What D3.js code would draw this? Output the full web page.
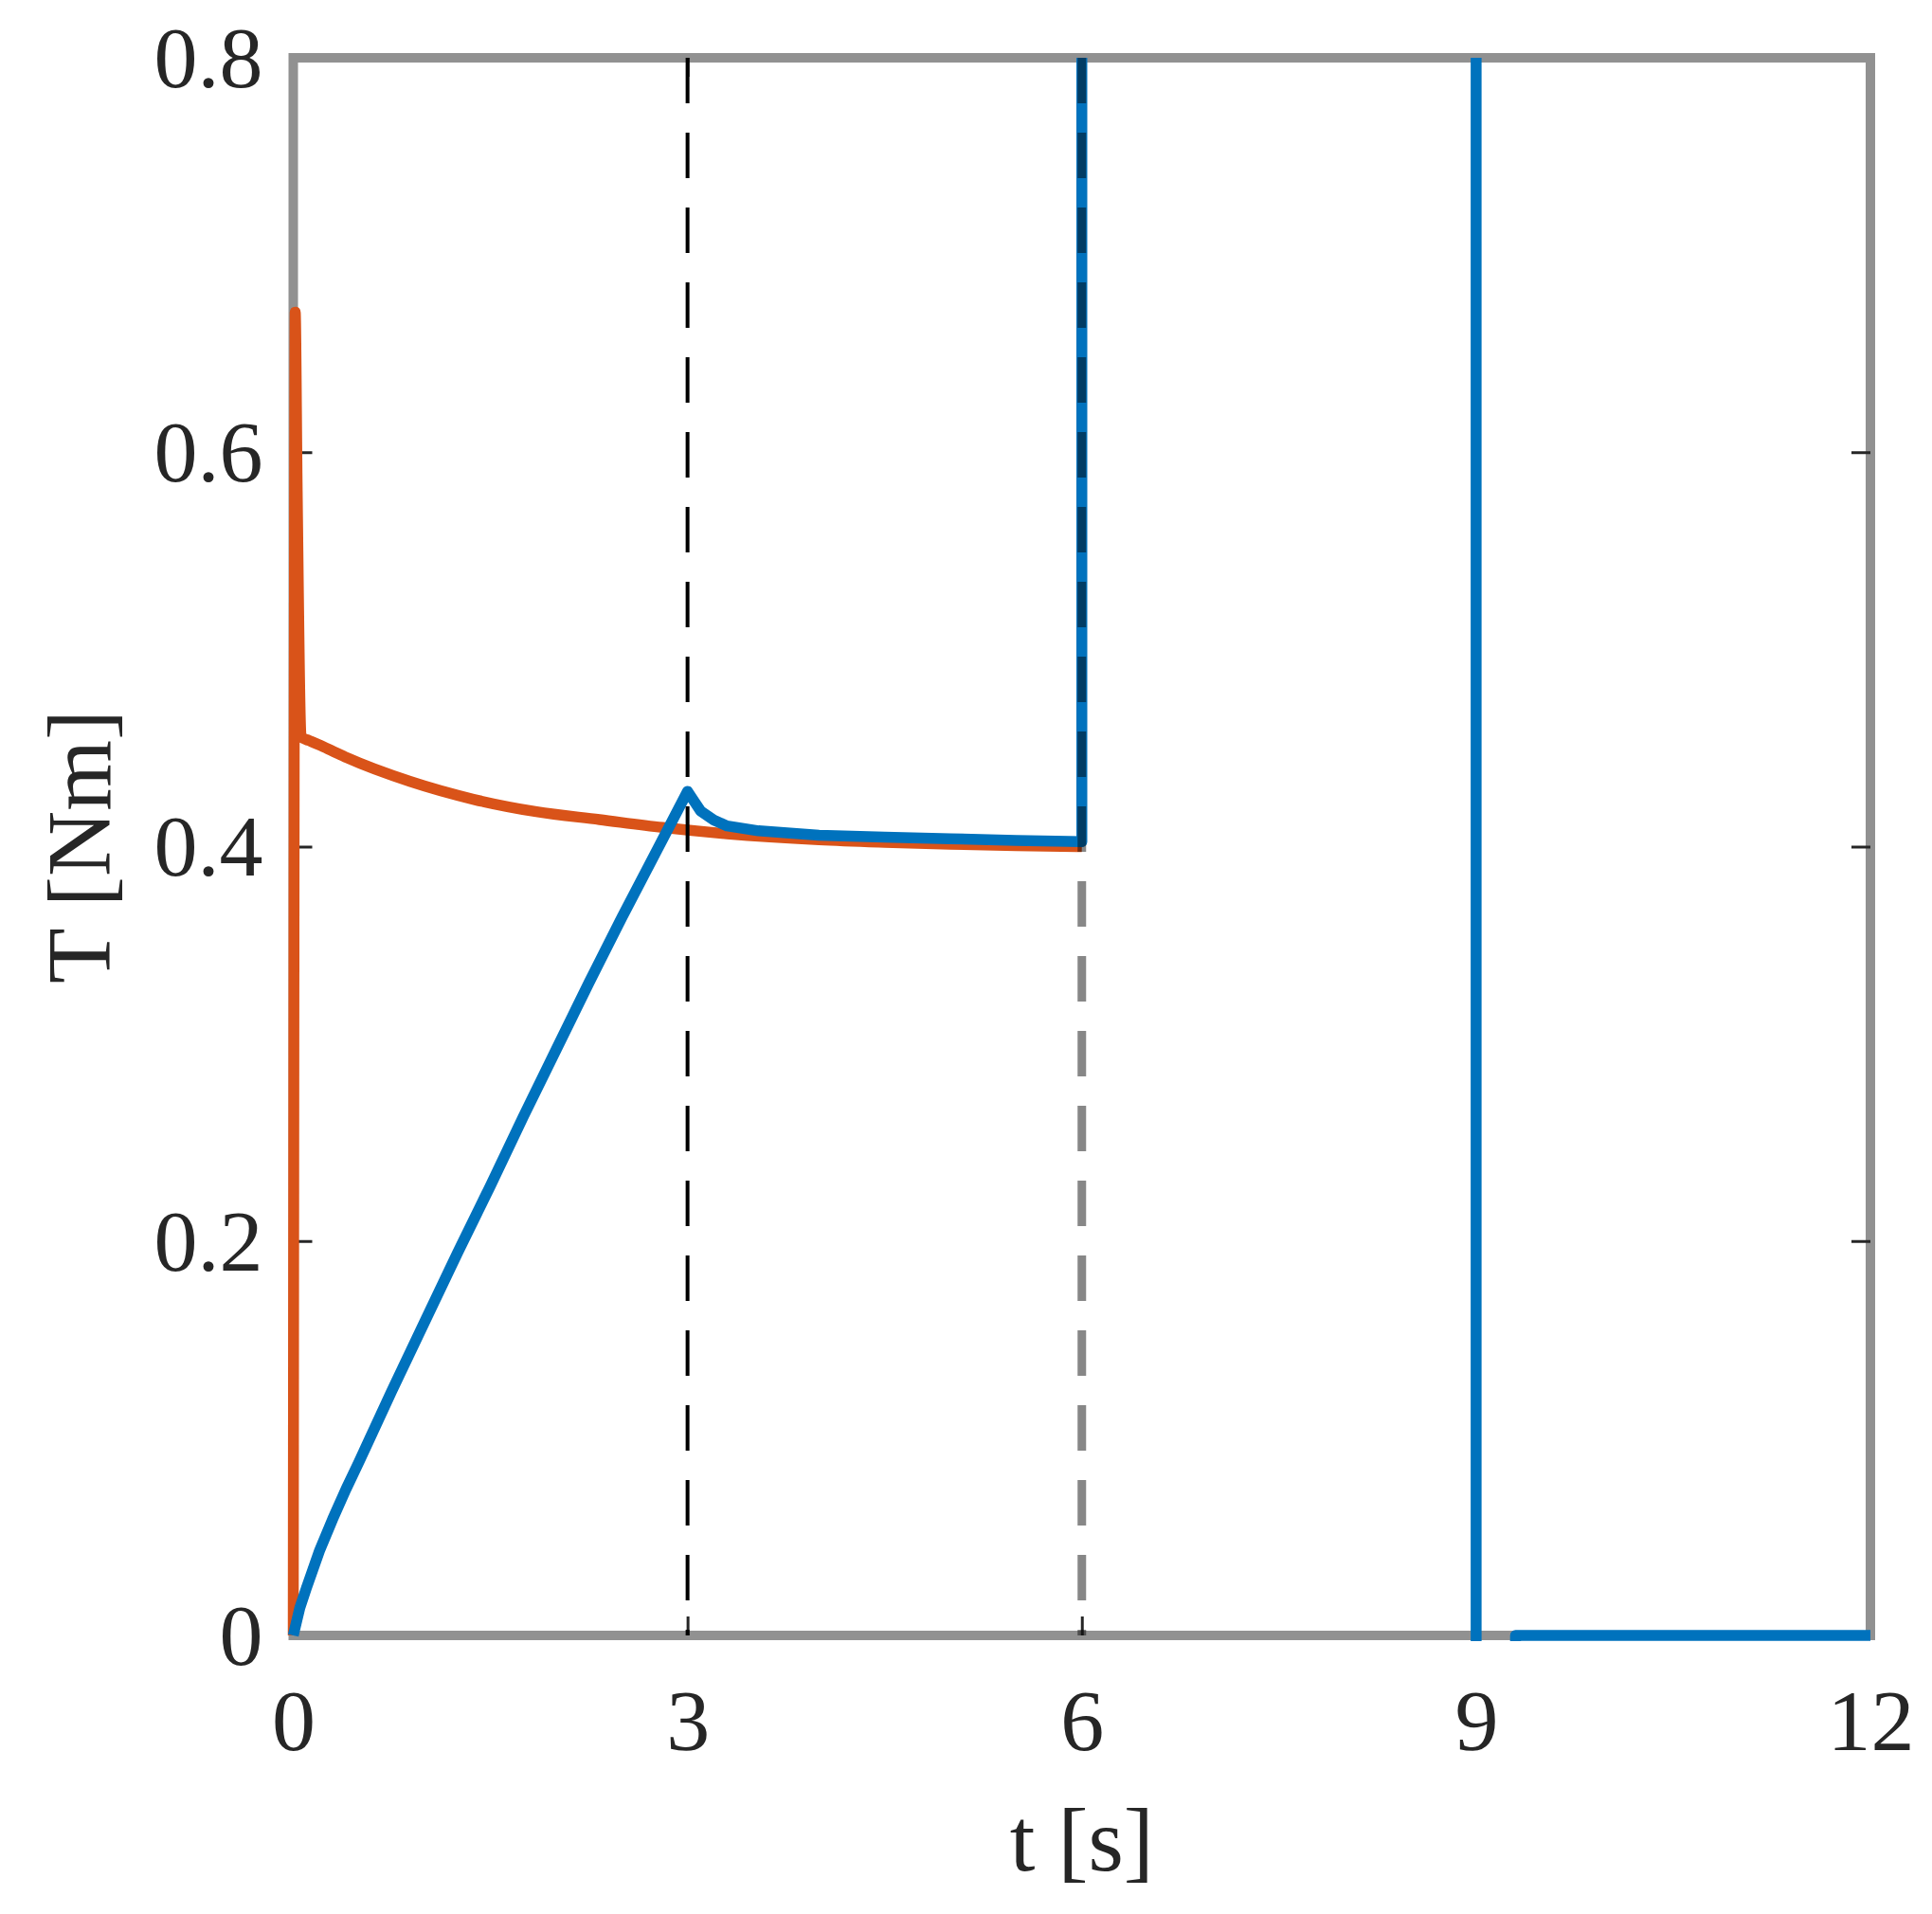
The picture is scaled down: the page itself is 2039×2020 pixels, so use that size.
<!DOCTYPE html>
<html>
<head>
<meta charset="utf-8">
<script src="https://cdn.jsdelivr.net/npm/d3@7"></script>
<style>
  html, body { margin: 0; padding: 0; background: #fff; }
  svg { display: block; }
  text { font-family: "Liberation Serif", "Times New Roman", serif; fill: #262626; }
</style>
</head>
<body>
<svg id="chart" width="2039" height="2020"></svg>
<script>
// ---- data ----
const xTicks = [0, 3, 6, 9, 12];
const xTickLabels = ["0", "3", "6", "9", "12"];
const yTicks = [0, 0.2, 0.4, 0.6, 0.8];
const yTickLabels = ["0", "0.2", "0.4", "0.6", "0.8"];
const innerXTicks = [3, 6, 9];
const innerYTicks = [0.2, 0.4, 0.6];
const xLabel = "t [s]";
const yLabel = "T [Nm]";

// orange series (time, torque)
const orangeT = [0, 0.015, 0.03, 0.06, 0.12, 0.2, 0.3, 0.41, 0.89, 1.37, 1.85, 2.33, 2.81, 3.3, 4.0, 4.5, 5.0, 5.5, 6.0];
const orangeV = [0, 0.671, 0.58, 0.4555, 0.4538, 0.4515, 0.4484, 0.445, 0.433, 0.424, 0.4177, 0.4137, 0.4097, 0.4065, 0.4035, 0.4022, 0.4012, 0.4005, 0.400];

// blue series (time, torque)
const blueT = [0, 0.05, 0.1, 0.2, 0.3, 0.4, 0.5, 0.75, 1.0, 1.25, 1.5, 1.75, 2.0, 2.25, 2.5, 2.75, 3.0, 3.05, 3.1, 3.2, 3.3, 3.54, 4.0, 4.5, 5.0, 5.5, 6.0, 6.0, 9.0, 9.0, 9.3, 9.3, 12];
const blueV = [0, 0.014, 0.024, 0.043, 0.059, 0.074, 0.088, 0.124, 0.159, 0.194, 0.228, 0.263, 0.297, 0.331, 0.364, 0.396, 0.428, 0.423, 0.418, 0.4135, 0.4105, 0.408, 0.4058, 0.4048, 0.404, 0.4031, 0.4025, 1.2, 1.2, -0.6, -0.6, 0, 0];

// vertical dashed markers
const markerT = [3, 6];
const markerOpacity = [1, 0.47];
const markerWidth = [4, 9];

// ---- layout ----
const W = 2039, H = 2020;
const m = { left: 309.5, top: 61, right: 65, bottom: 294 };
const svg = d3.select("#chart");
const x = d3.scaleLinear().domain([0, 12]).range([m.left, W - m.right]);
const y = d3.scaleLinear().domain([0, 0.8]).range([H - m.bottom, m.top]);

const fs = 92;
const tickColor = "#262626";
const boxColor = "#919191";

// box
svg.append("rect")
  .attr("x", x(0)).attr("y", y(0.8))
  .attr("width", x(12) - x(0)).attr("height", y(0) - y(0.8))
  .attr("fill", "none").attr("stroke", boxColor).attr("stroke-width", 10);

function styleAxis(g) {
  g.select(".domain").remove();
  g.selectAll(".tick line").attr("stroke", tickColor).attr("stroke-width", 3);
}
// inward tick marks on all four sides (inner ticks only)
[["axisBottom", y(0)], ["axisTop", y(0.8)]].forEach(([fn, pos]) => {
  const g = svg.append("g").attr("transform", `translate(0,${pos})`)
    .call(d3[fn](x).tickValues(innerXTicks).tickFormat("").tickSize(-20));
  styleAxis(g);
});
[["axisLeft", x(0)], ["axisRight", x(12)]].forEach(([fn, pos]) => {
  const g = svg.append("g").attr("transform", `translate(${pos},0)`)
    .call(d3[fn](y).tickValues(innerYTicks).tickFormat("").tickSize(-20));
  styleAxis(g);
});

// tick labels
const gBL = svg.append("g").attr("transform", `translate(0,${y(0)})`)
  .call(d3.axisBottom(x).tickValues(xTicks).tickFormat((d, i) => xTickLabels[i]).tickSize(0).tickPadding(0));
gBL.select(".domain").remove();
gBL.selectAll(".tick line").remove();
gBL.selectAll(".tick text").attr("font-size", fs).attr("y", 121).attr("dy", null)
  .attr("font-family", "Liberation Serif").attr("fill", tickColor);

const gLL = svg.append("g").attr("transform", `translate(${x(0)},0)`)
  .call(d3.axisLeft(y).tickValues(yTicks).tickFormat((d, i) => yTickLabels[i]).tickSize(0).tickPadding(0));
gLL.select(".domain").remove();
gLL.selectAll(".tick line").remove();
gLL.selectAll(".tick text").attr("font-size", fs).attr("x", -32).attr("dy", "0.33em")
  .attr("font-family", "Liberation Serif").attr("fill", tickColor);

// clip
svg.append("clipPath").attr("id", "clip").append("rect")
  .attr("x", x(0) - 10).attr("y", y(0.8))
  .attr("width", x(12) - x(0) + 20).attr("height", y(0) - y(0.8) + 6);

const plot = svg.append("g").attr("clip-path", "url(#clip)");

const orange = orangeT.map((t, i) => [t, orangeV[i]]);
const blue = blueT.map((t, i) => [t, blueV[i]]);

const lineSmooth = d3.line().x(d => x(d[0])).y(d => y(d[1])).curve(d3.curveMonotoneX);
const lineLinear = d3.line().x(d => x(d[0])).y(d => y(d[1]));

plot.append("path").datum(orange).attr("d", lineSmooth)
  .attr("fill", "none").attr("stroke", "#D95319").attr("stroke-width", 11.5)
  .attr("stroke-linejoin", "miter").attr("stroke-miterlimit", 4);
plot.append("path").datum(blue).attr("d", lineLinear)
  .attr("fill", "none").attr("stroke", "#0072BD").attr("stroke-width", 11.5)
  .attr("stroke-linejoin", "round");

// dashed markers
markerT.forEach((t, i) => {
  svg.append("line")
    .attr("x1", x(t)).attr("x2", x(t))
    .attr("y1", y(0.8)).attr("y2", y(0))
    .attr("stroke", "#000").attr("stroke-opacity", markerOpacity[i])
    .attr("stroke-width", markerWidth[i])
    .attr("stroke-dasharray", "48,31");
});

// axis labels
svg.append("text")
  .attr("x", (x(0) + x(12)) / 2).attr("y", 1974)
  .attr("text-anchor", "middle").attr("font-size", 96).text(xLabel);
svg.append("text")
  .attr("transform", `translate(116,${(y(0) + y(0.8)) / 2}) rotate(-90)`)
  .attr("text-anchor", "middle").attr("font-size", 96).text(yLabel);
</script>
</body>
</html>
